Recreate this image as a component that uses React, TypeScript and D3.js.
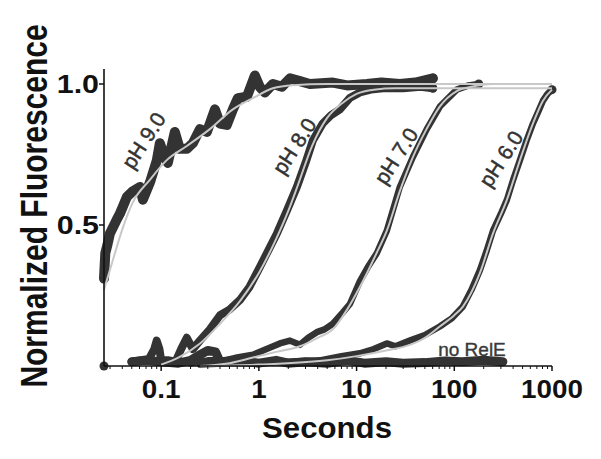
import React from 'react';
import * as d3 from 'd3';

type P = [number, number];

const xTicks = [0.1, 1, 10, 100, 1000];
const xTickLabels = ['0.1', '1', '10', '100', '1000'];
const yTicks = [0.5, 1.0];
const yTickLabels = ['0.5', '1.0'];

const ph9Data: P[] = [
  [0.026, 0.31], [0.0268, 0.40], [0.0282, 0.43], [0.0299, 0.47], [0.0352, 0.52], [0.0378, 0.54],
  [0.0446, 0.6], [0.0513, 0.62], [0.0605, 0.635], [0.065, 0.59], [0.0766, 0.65], [0.0904, 0.73],
  [0.097, 0.79], [0.109, 0.74], [0.117, 0.72], [0.138, 0.83], [0.155, 0.77], [0.183, 0.77],
  [0.211, 0.79], [0.249, 0.84], [0.294, 0.83], [0.355, 0.91], [0.399, 0.86], [0.47, 0.855],
  [0.542, 0.91], [0.61, 0.95], [0.754, 0.955], [0.91, 1.03], [1.02, 0.99], [1.15, 0.97],
  [1.39, 1.0], [1.72, 0.99], [2.08, 1.02], [2.63, 1.01], [3.33, 1.0], [5.72, 1.005], [8, 0.995],
  [12.7, 1.0], [18, 1.005], [27.7, 1.0], [40, 1.005], [60.4, 1.02],
];
const ph9Fit: P[] = [
  [0.026, 0.27], [0.032, 0.375], [0.0405, 0.49], [0.0513, 0.58], [0.0766, 0.66], [0.114, 0.73],
  [0.183, 0.78], [0.315, 0.84], [0.542, 0.91], [0.869, 0.95], [1.39, 0.985], [2.23, 0.996],
  [5, 1.0], [1000, 1.0],
];

const ph8Data: P[] = [
  [0.05, 0.015], [0.06, 0.02], [0.075, 0.025], [0.085, 0.06], [0.09, 0.09], [0.096, 0.06],
  [0.1, 0.02], [0.12, 0.02], [0.14, 0.015], [0.16, 0.06], [0.183, 0.1], [0.211, 0.06],
  [0.249, 0.09], [0.315, 0.13], [0.4, 0.18], [0.5, 0.2], [0.639, 0.234], [0.8, 0.28],
  [1.02, 0.35], [1.25, 0.41], [1.53, 0.47], [1.93, 0.55], [2.45, 0.635], [3.0, 0.72],
  [3.57, 0.8], [4.5, 0.86], [5.5, 0.89], [6.75, 0.91], [8.5, 0.95], [10.8, 0.97], [14, 0.98],
  [18.6, 0.985], [30, 0.985], [45, 0.99], [60.4, 0.985],
];
const ph8Fit: P[] = [
  [0.1, 0.005], [0.15, 0.03], [0.25, 0.08], [0.4, 0.15], [0.64, 0.23], [1.0, 0.33], [1.5, 0.45],
  [2.0, 0.55], [2.5, 0.64], [3.5, 0.78], [5, 0.88], [7, 0.93], [10, 0.965], [15, 0.98],
  [25, 0.985], [1000, 0.985],
];

const ph7Data: P[] = [
  [0.2, 0.01], [0.3, 0.02], [0.45, 0.02], [0.6, 0.03], [0.87, 0.04], [1.2, 0.06], [1.64, 0.08],
  [2.08, 0.09], [2.63, 0.075], [3.2, 0.1], [3.92, 0.12], [4.7, 0.13], [5.72, 0.15], [7.24, 0.19],
  [8.54, 0.22], [10.8, 0.3], [13, 0.35], [16.1, 0.4], [20.4, 0.48], [27.7, 0.635], [37.6, 0.74],
  [52.3, 0.84], [71.2, 0.92], [106, 0.98], [140, 0.995], [178, 1.0],
];
const ph7Fit: P[] = [
  [0.25, 0.0], [0.5, 0.01], [0.87, 0.03], [1.5, 0.05], [2.63, 0.07], [4, 0.1], [5.72, 0.13],
  [8, 0.2], [10.8, 0.28], [16, 0.4], [20.4, 0.48], [27.7, 0.62], [37.6, 0.74], [52, 0.84],
  [71, 0.92], [106, 0.975], [150, 0.99], [250, 1.0], [1000, 1.0],
];

const ph6Data: P[] = [
  [0.25, 0.005], [0.5, 0.01], [1, 0.01], [2, 0.015], [4.21, 0.02], [7, 0.035], [10.8, 0.045],
  [15, 0.06], [20.4, 0.08], [25, 0.07], [35, 0.09], [50, 0.11], [71, 0.14], [95, 0.17],
  [122, 0.21], [150, 0.27], [183, 0.34], [215, 0.41], [249, 0.48], [300, 0.54], [346, 0.59],
  [400, 0.66], [470, 0.73], [550, 0.8], [639, 0.86], [720, 0.9], [806, 0.94], [900, 0.965],
  [1000, 0.98],
];
const ph6Fit: P[] = [
  [0.25, 0.0], [1, 0.005], [5, 0.02], [10, 0.035], [20, 0.055], [35, 0.075], [50, 0.1],
  [71, 0.14], [100, 0.18], [122, 0.21], [183, 0.33], [249, 0.47], [346, 0.59], [470, 0.73],
  [639, 0.86], [806, 0.94], [1000, 0.98],
];

const noRelEStart: P[] = [[0.026, 0.0]];
const noRelEData: P[] = [
  [0.05, 0.015], [0.07, 0.02], [0.1, 0.015], [0.15, 0.01], [0.2, 0.02], [0.25, 0.04], [0.3, 0.055],
  [0.36, 0.05], [0.4, 0.015], [0.6, 0.02], [1, 0.01], [1.5, 0.02], [2, 0.01], [3, 0.015], [5, 0.01],
  [8, 0.02], [12, 0.01], [20, 0.015], [30, 0.01], [50, 0.012], [80, 0.018], [120, 0.015],
  [200, 0.02], [314, 0.015],
];

const phLabels = [
  { text: 'pH 9.0', t: 0.066, v: 0.8 },
  { text: 'pH 8.0', t: 2.3, v: 0.78 },
  { text: 'pH 7.0', t: 25.3, v: 0.745 },
  { text: 'pH 6.0', t: 300, v: 0.735 },
];

const W = 601;
const H = 459;
const FONT = '"Liberation Sans", Arial, Helvetica, sans-serif';
const DARK = '#333333';
const FITC = '#c8c8c8';

export default function App() {
  const x = d3.scaleLog().domain([0.026, 1000]).range([104, 552]);
  const y = d3.scaleLinear().domain([0, 1.05]).range([366, 69.9]);

  const dataLine = d3
    .line<P>()
    .x((d) => x(d[0]))
    .y((d) => y(d[1]))
    .curve(d3.curveLinear);
  const fitLine = d3
    .line<P>()
    .x((d) => x(d[0]))
    .y((d) => y(d[1]))
    .curve(d3.curveMonotoneX);

  const minor = x.ticks().filter((t) => !xTicks.some((m) => Math.abs(m - t) < 1e-9));

  const series = [
    { data: noRelEData, w: 9 },
    { data: ph6Data, w: 6.5 },
    { data: ph7Data, w: 6.5 },
    { data: ph8Data, w: 8 },
    { data: ph9Data, w: 10 },
  ];
  const fits = [ph6Fit, ph7Fit, ph8Fit, ph9Fit];
  const endDots: P[] = [
    ph9Data[ph9Data.length - 1],
    ph8Data[ph8Data.length - 1],
    ph7Data[ph7Data.length - 1],
    ph6Data[ph6Data.length - 1],
    ...noRelEStart,
  ];

  return (
    <svg
      width={W}
      height={H}
      style={{ position: 'absolute', left: 0, top: 0, background: '#fff' }}
      fontFamily={FONT}
    >
      <rect x={0} y={0} width={W} height={H} fill="#fff" />
      {series.map((s, i) => (
        <path
          key={'d' + i}
          d={dataLine(s.data) || ''}
          fill="none"
          stroke={DARK}
          strokeWidth={s.w}
          strokeLinejoin="round"
          strokeLinecap="round"
        />
      ))}
      {endDots.map((d, i) => (
        <circle key={'e' + i} cx={x(d[0])} cy={y(d[1])} r={4.5} fill={DARK} />
      ))}
      {fits.map((f, i) => (
        <path key={'f' + i} d={fitLine(f) || ''} fill="none" stroke={FITC} strokeWidth={2} />
      ))}
      <line x1={104} x2={104} y1={69} y2={366} stroke="#111" strokeWidth={1.6} />
      <line x1={104} x2={552} y1={366} y2={366} stroke="#111" strokeWidth={1.6} />
      {yTicks.map((t, i) => (
        <g key={'yt' + i}>
          <line x1={99} x2={104} y1={y(t)} y2={y(t)} stroke="#111" strokeWidth={1.5} />
          <text
            transform={`translate(99,${y(t) + 9}) scale(1.17,1)`}
            textAnchor="end"
            fontSize={26}
            fontWeight="bold"
            fill="#111"
          >
            {yTickLabels[i]}
          </text>
        </g>
      ))}
      {xTicks.map((t, i) => (
        <g key={'xt' + i}>
          <line x1={x(t)} x2={x(t)} y1={366} y2={371} stroke="#111" strokeWidth={1.5} />
          <text
            transform={`translate(${x(t)},398) scale(1.07,1)`}
            textAnchor="middle"
            fontSize={26}
            fontWeight="bold"
            fill="#111"
          >
            {xTickLabels[i]}
          </text>
        </g>
      ))}
      {minor.map((t, i) => (
        <line key={'mt' + i} x1={x(t)} x2={x(t)} y1={366} y2={369} stroke="#111" strokeWidth={1} />
      ))}
      <text
        transform="translate(327,438) scale(1.04,1)"
        textAnchor="middle"
        fontSize={30}
        fontWeight="bold"
        fill="#111"
      >
        Seconds
      </text>
      <text
        transform="translate(47,206) rotate(-90) scale(1,1.25)"
        textAnchor="middle"
        fontSize={30}
        fontWeight="bold"
        fill="#111"
      >
        Normalized Fluorescence
      </text>
      {phLabels.map((l, i) => (
        <text
          key={'pl' + i}
          transform={`translate(${x(l.t)},${y(l.v)}) rotate(-57)`}
          textAnchor="middle"
          dominantBaseline="central"
          fontSize={21}
          fill={DARK}
          stroke={DARK}
          strokeWidth={0.5}
        >
          {l.text}
        </text>
      ))}
      <text
        x={472}
        y={356}
        textAnchor="middle"
        fontSize={19}
        fill="#3a3a3a"
        stroke="#3a3a3a"
        strokeWidth={0.4}
      >
        no RelE
      </text>
    </svg>
  );
}
